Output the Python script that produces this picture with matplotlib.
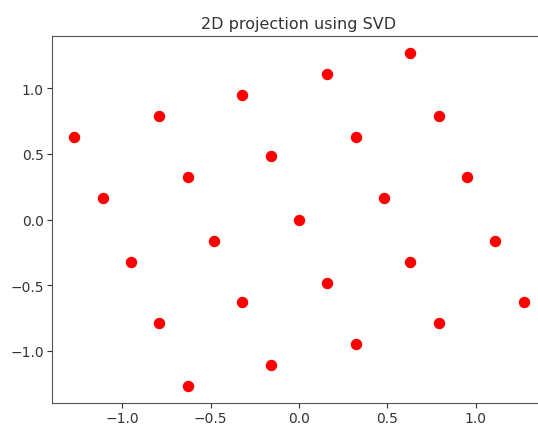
import matplotlib
matplotlib.use('Agg')
import matplotlib.pyplot as plt

# projected coordinates
x = [-1.27, -1.11, -0.95, -0.79, -0.79, -0.63, -0.63, -0.48, -0.32, -0.32,
     -0.16, -0.16, 0.00, 0.16, 0.16, 0.32, 0.32, 0.48, 0.63, 0.63,
     0.79, 0.79, 0.95, 1.11, 1.27]
y = [0.63, 0.16, -0.32, 0.79, -0.79, 0.32, -1.27, -0.16, 0.95, -0.63,
     0.48, -1.11, 0.00, 1.11, -0.48, 0.63, -0.95, 0.16, 1.27, -0.32,
     0.79, -0.79, 0.32, -0.16, -0.63]

fig = plt.figure(figsize=(5.38, 4.27), dpi=100)
ax = fig.add_axes([52 / 538, 23 / 427, 494 / 538, 367 / 427])

ax.scatter(x, y, color='red', s=52)
ax.set_title('2D projection using SVD', fontsize=11.5, color='#333333')
ax.set_xticks([-1.0, -0.5, 0.0, 0.5, 1.0])
ax.set_yticks([-1.0, -0.5, 0.0, 0.5, 1.0])
ax.tick_params(labelsize=10, colors='#333333', pad=2.5)
for s in ax.spines.values():
    s.set_color('#555555')

plt.savefig('out.png', dpi=100)
